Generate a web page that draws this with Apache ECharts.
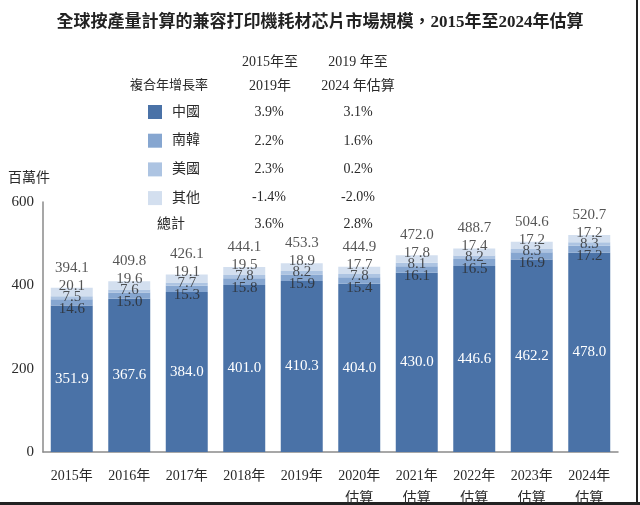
<!DOCTYPE html>
<html><head><meta charset="utf-8">
<script src="https://cdn.jsdelivr.net/npm/echarts@6/dist/echarts.min.js"></script>
<style>html,body{margin:0;padding:0;background:#fff}#c{width:640px;height:505px}</style>
</head><body><div id="c"></div>
<script>
const years = ['2015年','2016年','2017年','2018年','2019年','2020年\n估算','2021年\n估算','2022年\n估算','2023年\n估算','2024年\n估算'];
const china  = [351.9,367.6,384.0,401.0,410.3,404.0,430.0,446.6,462.2,478.0];
const korea  = [14.6,15.0,15.3,15.8,15.9,15.4,16.1,16.5,16.9,17.2];
const usa    = [7.5,7.6,7.7,7.8,8.2,7.8,8.1,8.2,8.3,8.3];
const others = [20.1,19.6,19.1,19.5,18.9,17.7,17.8,17.4,17.2,17.2];
const totals = [394.1,409.8,426.1,444.1,453.3,444.9,472.0,488.7,504.6,520.7];
const seriesNames = ['中國','南韓','美國','其他'];
const cagr1519 = ['3.9%','2.2%','2.3%','-1.4%'];
const cagr1924 = ['3.1%','1.6%','0.2%','-2.0%'];
const cagrTotal = ['3.6%','2.8%'];
const yTicks = [0,200,400,600];

const serif = '"Liberation Serif","Noto Sans CJK TC",serif';
const cjk = '"Liberation Serif","Noto Sans CJK TC",sans-serif';
const colors = ['#4a72a7','#86a6d0','#adc4e2','#d3dfef'];
const txt = '#2a2a2a';

const chart = echarts.init(document.getElementById('c'));
function labelSeries(vals, dy, fmt) {
  return {
    type: 'scatter', data: totals.map((t,i)=>[i,t]), symbolSize: 1,
    itemStyle: {color: 'rgba(0,0,0,0)'}, silent: true, z: 5,
    label: {show: true, position: 'inside', offset: [0, dy],
      formatter: p => fmt(vals[p.dataIndex]),
      color: txt, fontFamily: serif, fontSize: 15}
  };
}
const rows = [112, 141, 169, 197];
const graphics = [];
graphics.push({type:'text', left: 8, top: 171, style:{text:'百萬件', fill:txt, font:'14px '+cjk}});
graphics.push({type:'text', x: 270, y: 62, style:{text:'2015年至', fill:txt, font:'14px '+cjk, align:'center', verticalAlign:'middle'}});
graphics.push({type:'text', x: 270, y: 86, style:{text:'2019年', fill:txt, font:'14px '+cjk, align:'center', verticalAlign:'middle'}});
graphics.push({type:'text', x: 358, y: 62, style:{text:'2019 年至', fill:txt, font:'14px '+cjk, align:'center', verticalAlign:'middle'}});
graphics.push({type:'text', x: 358, y: 86, style:{text:'2024 年估算', fill:txt, font:'14px '+cjk, align:'center', verticalAlign:'middle'}});
graphics.push({type:'text', x: 130, y: 86, style:{text:'複合年增長率', fill:txt, font:'13px '+cjk, verticalAlign:'middle'}});
rows.forEach((y,i)=>{
  graphics.push({type:'text', x: 269, y: y, style:{text:cagr1519[i], fill:txt, font:'14px '+serif, align:'center', verticalAlign:'middle'}});
  graphics.push({type:'text', x: 358, y: y, style:{text:cagr1924[i], fill:txt, font:'14px '+serif, align:'center', verticalAlign:'middle'}});
});
graphics.push({type:'text', x: 171, y: 224, style:{text:'總計', fill:txt, font:'14px '+cjk, align:'center', verticalAlign:'middle'}});
graphics.push({type:'text', x: 269, y: 224, style:{text:cagrTotal[0], fill:txt, font:'14px '+serif, align:'center', verticalAlign:'middle'}});
graphics.push({type:'text', x: 358, y: 224, style:{text:cagrTotal[1], fill:txt, font:'14px '+serif, align:'center', verticalAlign:'middle'}});
graphics.push({type:'rect', shape:{x:0, y:502, width:640, height:3}, style:{fill:'#222'}});
graphics.push({type:'rect', shape:{x:636, y:0, width:2, height:505}, style:{fill:'#222'}});

chart.setOption({
  animation: false,
  title: {text: '全球按產量計算的兼容打印機耗材芯片市場規模，2015年至2024年估算', left: 'center', top: 9,
    textStyle: {fontSize: 17, fontWeight: 'bold', color: '#222', fontFamily: '"Liberation Serif","Noto Sans CJK TC",sans-serif'}},
  legend: {orient: 'vertical', left: 143, top: 100, itemWidth: 14, itemHeight: 14, itemGap: 14.7,
    icon: 'rect', data: seriesNames, selectedMode: false,
    textStyle: {fontSize: 14, color: txt, fontFamily: cjk, padding: [0,0,0,5]}},
  grid: {left: 43, right: 22, top: 202, bottom: 53, containLabel: false, outerBoundsMode: 'none'},
  xAxis: {type: 'category', data: years,
    axisLine: {lineStyle: {color: '#8a8a8a', width: 1.5}}, axisTick: {show: false},
    axisLabel: {color: txt, fontSize: 14, fontFamily: cjk, margin: 13, lineHeight: 22, interval: 0}},
  yAxis: {type: 'value', min: yTicks[0], max: yTicks[yTicks.length-1], interval: 200,
    axisLine: {show: true, lineStyle: {color: '#8a8a8a', width: 1.5}}, axisTick: {show: false}, splitLine: {show: false},
    axisLabel: {color: txt, fontSize: 15, fontFamily: serif, margin: 9}},
  graphic: graphics,
  series: [
    {name: seriesNames[0], type: 'bar', stack: 't', data: china, barWidth: '73%', itemStyle: {color: colors[0]},
      label: {show: true, position: 'inside', color: '#fff', fontSize: 15, fontFamily: serif, formatter: p => p.value.toFixed(1)}},
    {name: seriesNames[1], type: 'bar', stack: 't', data: korea, itemStyle: {color: colors[1]}},
    {name: seriesNames[2], type: 'bar', stack: 't', data: usa, itemStyle: {color: colors[2]}},
    {name: seriesNames[3], type: 'bar', stack: 't', data: others, itemStyle: {color: colors[3]}},
    labelSeries(korea, 21, v=>v.toFixed(1)),
    labelSeries(usa, 9, v=>v.toFixed(1)),
    labelSeries(others, -2, v=>v.toFixed(1)),
    labelSeries(totals, -20, v=>v.toFixed(1))
  ]
});
</script></body></html>
